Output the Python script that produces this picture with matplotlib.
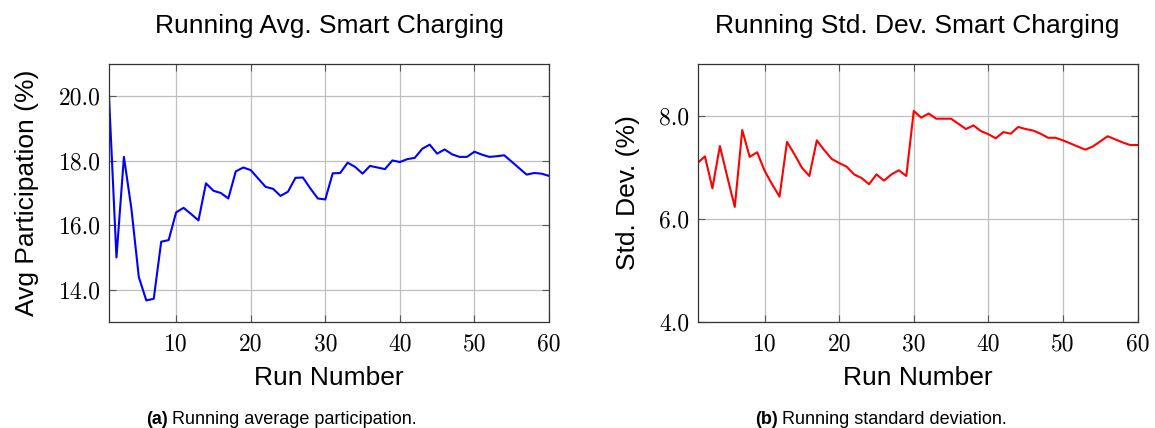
import matplotlib
matplotlib.use("Agg")
import matplotlib.pyplot as plt
from matplotlib.ticker import FormatStrFormatter

# data
runs = list(range(1, 61))
avg_part = [20.00, 15.00, 18.12, 16.52, 14.39, 13.67, 13.72, 15.49, 15.54, 16.40,
            16.54, 16.35, 16.15, 17.30, 17.07, 17.00, 16.83, 17.67, 17.79, 17.71,
            17.45, 17.19, 17.13, 16.91, 17.04, 17.47, 17.48, 17.14, 16.83, 16.80,
            17.61, 17.62, 17.94, 17.81, 17.60, 17.84, 17.79, 17.74, 18.01, 17.96,
            18.05, 18.09, 18.37, 18.50, 18.22, 18.35, 18.20, 18.12, 18.12, 18.28,
            18.19, 18.12, 18.14, 18.17, 17.97, 17.77, 17.57, 17.62, 17.60, 17.53]
std_dev = [7.08, 7.21, 6.59, 7.41, 6.81, 6.23, 7.72, 7.20, 7.29, 6.93,
           6.67, 6.43, 7.49, 7.25, 6.99, 6.83, 7.52, 7.33, 7.16, 7.08,
           7.01, 6.86, 6.79, 6.67, 6.86, 6.74, 6.86, 6.94, 6.83, 8.09,
           7.96, 8.04, 7.94, 7.94, 7.94, 7.84, 7.74, 7.81, 7.70, 7.64,
           7.56, 7.68, 7.65, 7.78, 7.74, 7.71, 7.65, 7.57, 7.57, 7.52,
           7.46, 7.40, 7.34, 7.40, 7.50, 7.60, 7.54, 7.48, 7.43, 7.43]

x_ticks = [10, 20, 30, 40, 50, 60]
avg_ticks = [14, 16, 18, 20]
std_ticks = [4, 6, 8]

sans = ["Liberation Sans", "DejaVu Sans"]
tick_font = "cmr10"
label_size = 19

fig = plt.figure(figsize=(11.55, 4.28), dpi=100)
ax1 = fig.add_axes([109 / 1155, 106 / 428, 440 / 1155, 258 / 428])
ax2 = fig.add_axes([697.5 / 1155, 106 / 428, 440 / 1155, 258 / 428])


def style(ax, yticks, ylim):
    ax.set_xlim(1, 60)
    ax.set_ylim(*ylim)
    ax.set_xticks(x_ticks)
    ax.set_yticks(yticks)
    ax.yaxis.set_major_formatter(FormatStrFormatter("%.1f"))
    ax.grid(True, color="#bfbfbf", linewidth=0.9)
    ax.set_axisbelow(True)
    ax.tick_params(direction="in", top=True, right=True, length=5,
                   width=0.8, color="#555555", labelsize=17)
    ax.tick_params(axis="x", pad=8)
    ax.tick_params(axis="y", pad=6)
    for lab in ax.get_xticklabels() + ax.get_yticklabels():
        lab.set_fontfamily(tick_font)
    for s in ax.spines.values():
        s.set_color("#333333")
        s.set_linewidth(0.9)


ax1.plot(runs, avg_part, color="blue", linewidth=1.5)
style(ax1, avg_ticks, (13, 21))
ax1.set_title("Running Avg. Smart Charging", fontsize=label_size, family=sans, pad=22)
ax1.set_xlabel("Run Number", fontsize=label_size, family=sans, labelpad=8)
ax1.set_ylabel("Avg Participation (%)", fontsize=label_size, family=sans, labelpad=14)

ax2.plot(runs, std_dev, color="red", linewidth=1.5)
style(ax2, std_ticks, (4, 9))
ax2.set_title("Running Std. Dev. Smart Charging", fontsize=label_size, family=sans, pad=22)
ax2.set_xlabel("Run Number", fontsize=label_size, family=sans, labelpad=8)
ax2.set_ylabel("Std. Dev. (%)", fontsize=label_size, family=sans, labelpad=14)

cap_y = 4 / 428
fig.text(168 / 1155, cap_y, "(a)", fontsize=13, family=sans, weight="bold", ha="right")
fig.text(172 / 1155, cap_y, "Running average participation.", fontsize=13, family=sans, ha="left")
fig.text(778 / 1155, cap_y, "(b)", fontsize=13, family=sans, weight="bold", ha="right")
fig.text(782 / 1155, cap_y, "Running standard deviation.", fontsize=13, family=sans, ha="left")

fig.savefig("out.png", dpi=100)
